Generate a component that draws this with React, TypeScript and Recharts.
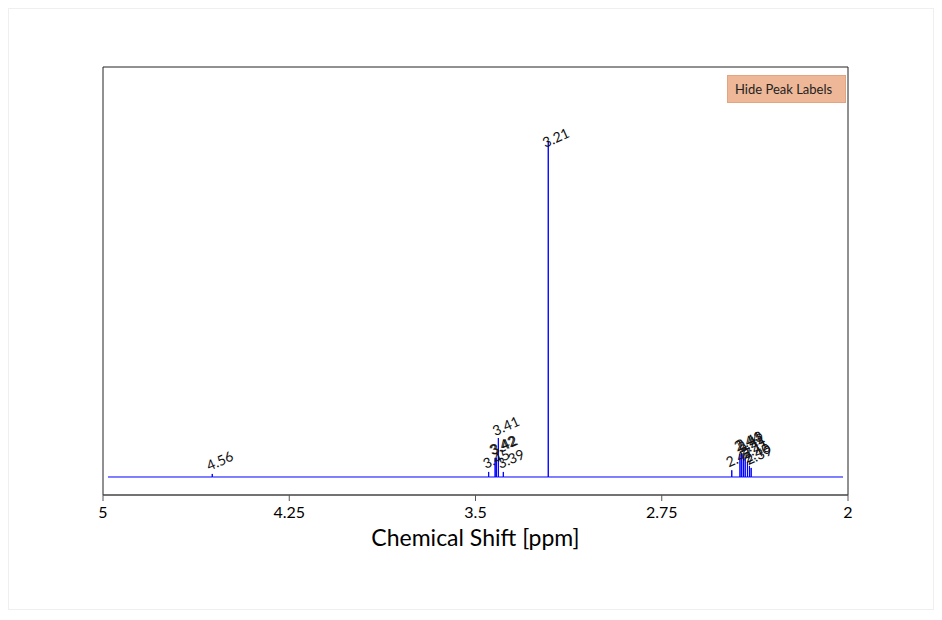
import React from 'react';
import { ComposedChart, Line, Scatter, XAxis, YAxis, ReferenceArea } from 'recharts';

// Peak positions (ppm), intensities (relative) and printed labels
const PEAK_PPM = [4.56, 3.447, 3.421, 3.416, 3.408, 3.388, 3.207, 2.468, 2.435, 2.428, 2.421, 2.414, 2.405, 2.397, 2.39];
const PEAK_INTENSITY = [0.009, 0.015, 0.057, 0.057, 0.116, 0.015, 1.0, 0.02, 0.068, 0.071, 0.065, 0.057, 0.045, 0.033, 0.027];
const PEAK_LABELS = ['4.56', '3.45', '3.42', '3.42', '3.41', '3.39', '3.21', '2.47', '2.44', '2.43', '2.42', '2.41', '2.41', '2.40', '2.39'];

const BASELINE_START = 4.98;
const BASELINE_END = 2.02;

const X_TICKS = [5, 4.25, 3.5, 2.75, 2];
const X_DOMAIN = [2, 5];
const Y_DOMAIN = [-0.0536, 1.2202];

const spectrum: { x: number; y: number }[] = [{ x: BASELINE_START, y: 0 }];
PEAK_PPM.forEach((p, i) => {
  spectrum.push({ x: p, y: 0 });
  spectrum.push({ x: p, y: PEAK_INTENSITY[i] });
  spectrum.push({ x: p, y: 0 });
});
spectrum.push({ x: BASELINE_END, y: 0 });

const peaks = PEAK_PPM.map((p, i) => ({ x: p, y: PEAK_INTENSITY[i], label: PEAK_LABELS[i] }));

const FONT = 'Lato, "Open Sans", sans-serif';

const PeakLabel = (props: any) => {
  const { cx, cy, payload } = props;
  if (cx == null || cy == null) return null;
  const ax = cx - 3;
  const ay = cy - 3 + 10 * payload.y;
  return (
    <text
      x={ax}
      y={ay}
      fontSize={14}
      fontFamily={FONT}
      fill="#111"
      textAnchor="start"
      transform={`rotate(-24, ${ax}, ${ay})`}
    >
      {payload.label}
    </text>
  );
};

export default function App() {
  return (
    <div
      style={{
        position: 'relative',
        width: 924,
        height: 600,
        border: '1px solid #efefef',
        background: '#fff',
        fontFamily: FONT,
      }}
    >
      <ComposedChart width={924} height={600} margin={{ top: 58, right: 85, bottom: 54, left: 94 }}>
        <XAxis
          type="number"
          dataKey="x"
          domain={X_DOMAIN}
          reversed
          allowDataOverflow
          ticks={X_TICKS}
          interval={0}
          height={60}
          tickSize={6}
          tickMargin={6}
          stroke="#555"
          tick={{ fontSize: 16, fill: '#000', fontFamily: FONT }}
          label={{
            value: 'Chemical Shift [ppm]',
            position: 'insideBottom',
            offset: 9,
            style: { fontSize: 23, fill: '#000', fontFamily: FONT },
          }}
        />
        <YAxis type="number" dataKey="y" domain={Y_DOMAIN} hide allowDataOverflow />
        <ReferenceArea
          x1={X_DOMAIN[0]}
          x2={X_DOMAIN[1]}
          y1={Y_DOMAIN[0]}
          y2={Y_DOMAIN[1]}
          fill="none"
          stroke="#222"
          strokeWidth={1}
        />
        <Line
          data={spectrum}
          dataKey="y"
          type="linear"
          stroke="#0000ff"
          strokeWidth={1}
          dot={false}
          activeDot={false}
          isAnimationActive={false}
        />
        <Scatter data={peaks} dataKey="y" shape={PeakLabel} isAnimationActive={false} />
      </ComposedChart>
      <div
        style={{
          position: 'absolute',
          left: 718,
          top: 66,
          width: 110,
          height: 26,
          background: '#eeb898',
          border: '1px solid #e3a47f',
          fontSize: 13,
          fontFamily: FONT,
          color: '#222',
          display: 'flex',
          alignItems: 'center',
          paddingLeft: 7,
          boxSizing: 'content-box',
          whiteSpace: 'nowrap',
        }}
      >
        Hide Peak Labels
      </div>
    </div>
  );
}
